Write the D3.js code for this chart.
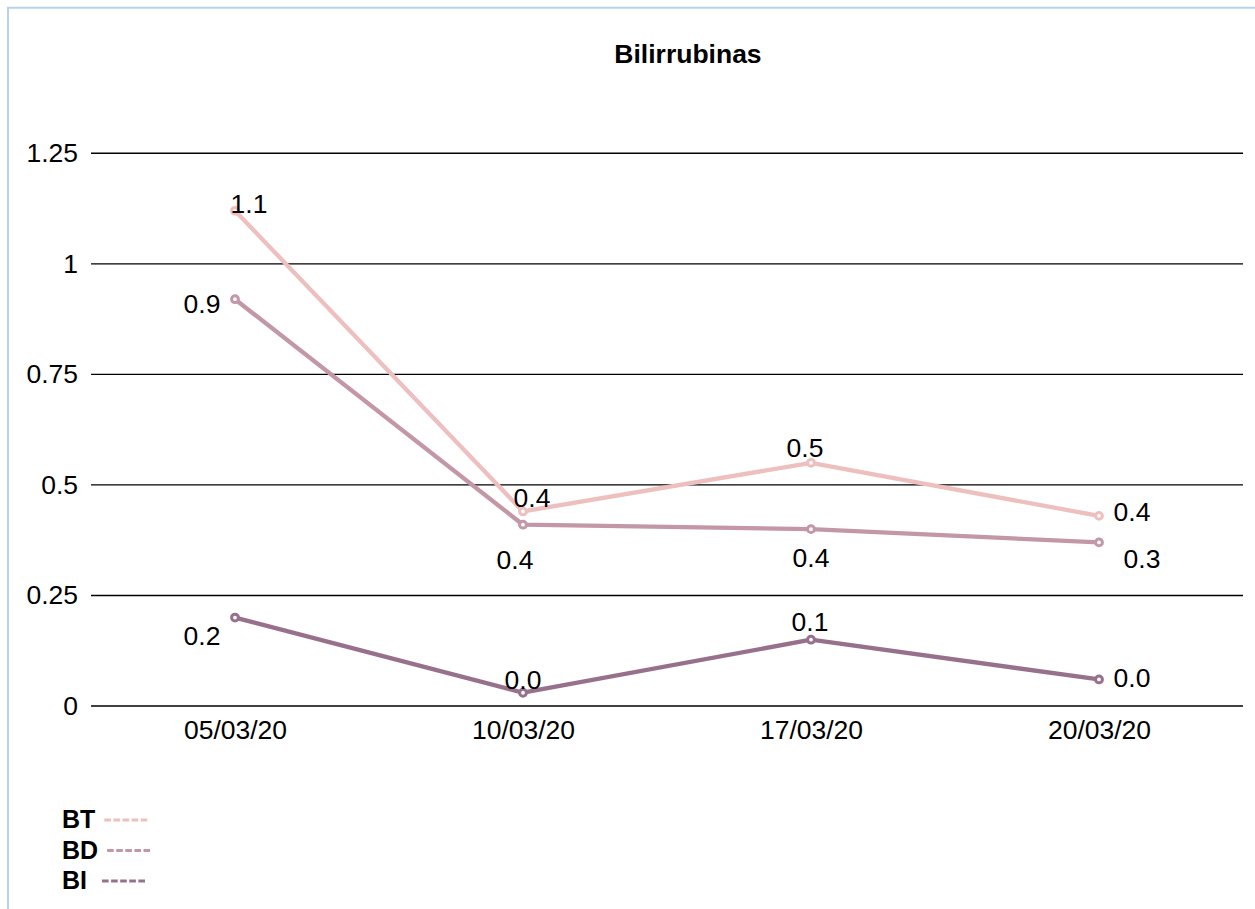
<!DOCTYPE html>
<html>
<head>
<meta charset="utf-8">
<script src="https://cdn.jsdelivr.net/npm/d3@7/dist/d3.min.js"></script>
<style>
  html, body { margin: 0; padding: 0; background: #fff; }
  svg { display: block; font-family: "Liberation Sans", Arial, Helvetica, sans-serif; }
</style>
</head>
<body>
<svg id="chart" width="1255" height="909"></svg>
<script>
// Sampling dates
const dates = ["05/03/20", "10/03/20", "17/03/20", "20/03/20"];

// Bilirubin values (mg/dL) per series
const btValues = [1.12, 0.44, 0.55, 0.43];
const bdValues = [0.92, 0.41, 0.40, 0.37];
const biValues = [0.20, 0.03, 0.15, 0.06];

const seriesNames = ["BT", "BD", "BI"];

// Y-axis ticks
const yTicks = [0, 0.25, 0.5, 0.75, 1, 1.25];
const yTickLabels = ["0", "0.25", "0.5", "0.75", "1", "1.25"];

const title = "Bilirrubinas";

// Presentation
const colors = { BT: "#eebfbf", BD: "#c497a6", BI: "#97718c" };
const fontSize = 26.5;
// value-label offsets from each point [dx, dy of baseline]
const labelOffsets = {
  BT: [[14, 2], [9, -4], [-6, -6], [33, 5]],
  BD: [[-33, 14], [-8, 44], [0, 38], [43, 26]],
  BI: [[-33, 27], [0, -4], [-1, -9], [33, 8]]
};

const series = [
  { name: "BT", values: btValues },
  { name: "BD", values: bdValues },
  { name: "BI", values: biValues }
];

const svg = d3.select("#chart");

// frame
svg.append("path")
  .attr("d", "M8,909 L8,7.7 L1255,7.7")
  .attr("fill", "none")
  .attr("stroke", "#b7d2ea")
  .attr("stroke-width", 2);

const x = d3.scalePoint().domain(dates).range([91, 1243]).padding(0.5);
const y = d3.scaleLinear().domain([0, 1.25]).range([706, 153.3]);

// horizontal gridlines
svg.append("g")
  .selectAll("line")
  .data(yTicks)
  .join("line")
  .attr("x1", 91)
  .attr("x2", 1243)
  .attr("y1", d => y(d))
  .attr("y2", d => y(d))
  .attr("stroke", "#000")
  .attr("stroke-width", 1.4);

// y-axis labels
const yAxis = d3.axisLeft(y)
  .tickValues(yTicks)
  .tickFormat((d, i) => yTickLabels[i])
  .tickSize(0)
  .tickPadding(13);
const gy = svg.append("g").attr("transform", "translate(91,0)").call(yAxis);
gy.select(".domain").remove();
gy.selectAll("text")
  .attr("font-size", fontSize)
  .attr("fill", "#000")
  .attr("font-family", "Liberation Sans, Arial, sans-serif");

// x-axis labels
const xAxis = d3.axisBottom(x).tickSize(0).tickPadding(14);
const gx = svg.append("g").attr("transform", "translate(0,706)").call(xAxis);
gx.select(".domain").remove();
gx.selectAll("text")
  .attr("font-size", fontSize)
  .attr("fill", "#000")
  .attr("font-family", "Liberation Sans, Arial, sans-serif");

// title
svg.append("text")
  .attr("x", 688)
  .attr("y", 63)
  .attr("text-anchor", "middle")
  .attr("font-size", 26.5)
  .attr("font-weight", "bold")
  .text(title);

const line = d3.line()
  .x((d, i) => x(dates[i]))
  .y(d => y(d));

// series lines
svg.append("g")
  .selectAll("path")
  .data(series)
  .join("path")
  .attr("d", s => line(s.values))
  .attr("fill", "none")
  .attr("stroke", s => colors[s.name])
  .attr("stroke-width", 4.3)
  .attr("stroke-linejoin", "round");

// markers
series.forEach(s => {
  svg.append("g")
    .selectAll("circle")
    .data(s.values)
    .join("circle")
    .attr("cx", (d, i) => x(dates[i]))
    .attr("cy", d => y(d))
    .attr("r", 3.4)
    .attr("fill", "#fff")
    .attr("stroke", colors[s.name])
    .attr("stroke-width", 3);
});

// value labels (truncated to one decimal)
const fmt = v => (Math.floor(v * 10 + 1e-9) / 10).toFixed(1);
series.forEach(s => {
  svg.append("g")
    .selectAll("text")
    .data(s.values)
    .join("text")
    .attr("x", (d, i) => x(dates[i]) + labelOffsets[s.name][i][0])
    .attr("y", (d, i) => y(d) + labelOffsets[s.name][i][1])
    .attr("text-anchor", "middle")
    .attr("font-size", fontSize)
    .attr("fill", "#000")
    .text(d => fmt(d));
});

// legend
const legend = svg.append("g");
const legendRows = legend.selectAll("g")
  .data(seriesNames)
  .join("g")
  .attr("transform", (d, i) => `translate(62,${828 + i * 30.5})`);
legendRows.append("text")
  .attr("font-size", 25)
  .attr("font-weight", "bold")
  .attr("fill", "#000")
  .text(d => d);
legendRows.each(function(d) {
  const w = this.querySelector("text").getComputedTextLength();
  const x0 = Math.max(w + 9, 40);
  d3.select(this).append("line")
    .attr("x1", x0)
    .attr("x2", x0 + 43)
    .attr("y1", -8)
    .attr("y2", -8)
    .attr("stroke", colors[d])
    .attr("stroke-width", 3)
    .attr("stroke-dasharray", "6.6,2.5");
});
</script>
</body>
</html>
